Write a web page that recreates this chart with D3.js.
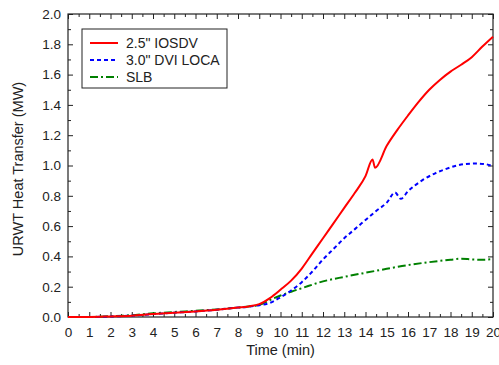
<!DOCTYPE html>
<html>
<head>
<meta charset="utf-8">
<script src="https://cdn.jsdelivr.net/npm/d3@7"></script>
<style>
  body { margin: 0; background: #fff; }
  text { font-family: "Liberation Sans", Arial, sans-serif; fill: #222; }
</style>
</head>
<body>
<div id="chart"></div>
<script>
// series (time in min, heat transfer in MW)
const iosdvTime = [0, 1, 2, 3, 4, 5, 6, 7, 8, 8.5, 9, 9.5, 10, 10.5, 11, 11.5, 12, 12.5, 13, 13.5, 14, 14.33, 14.45, 15, 15.5, 16, 16.5, 17, 17.5, 18, 18.5, 19, 19.5, 20];
const iosdvVal  = [0, 0, 0.004, 0.009, 0.02, 0.028, 0.037, 0.048, 0.062, 0.07, 0.085, 0.125, 0.18, 0.24, 0.32, 0.42, 0.52, 0.62, 0.72, 0.82, 0.93, 1.04, 0.985, 1.13, 1.235, 1.33, 1.42, 1.5, 1.565, 1.62, 1.665, 1.715, 1.785, 1.85];

const dviTime = [0, 1, 2, 3, 4, 5, 6, 7, 8, 8.5, 9, 9.5, 10, 10.5, 11, 11.5, 12, 12.5, 13, 13.5, 14, 14.5, 15, 15.39, 15.66, 16, 16.7, 17.3, 17.8, 18.3, 18.7, 19.2, 19.6, 20];
const dviVal  = [0, 0, 0.003, 0.009, 0.019, 0.028, 0.037, 0.048, 0.062, 0.068, 0.078, 0.093, 0.13, 0.175, 0.23, 0.3, 0.38, 0.45, 0.52, 0.58, 0.64, 0.7, 0.755, 0.822, 0.78, 0.83, 0.905, 0.95, 0.978, 1.0, 1.01, 1.013, 1.01, 0.995];

const slbTime = [0, 1, 2, 3, 4, 5, 6, 7, 8, 8.5, 9, 9.5, 10, 10.5, 11, 12, 13, 14, 15, 16, 17, 18, 18.5, 19, 19.5, 20];
const slbVal  = [0, 0, 0.005, 0.012, 0.024, 0.033, 0.041, 0.05, 0.063, 0.07, 0.08, 0.112, 0.142, 0.167, 0.19, 0.235, 0.265, 0.292, 0.318, 0.343, 0.362, 0.378, 0.385, 0.38, 0.378, 0.382];

const seriesNames = ['2.5" IOSDV', '3.0" DVI LOCA', 'SLB'];
const xTicks = d3.range(0, 21, 1);
const yTicks = [0.0, 0.2, 0.4, 0.6, 0.8, 1.0, 1.2, 1.4, 1.6, 1.8, 2.0];

const W = 499, H = 365;
const margin = {top: 14, right: 6, bottom: 48, left: 68};
const w = W - margin.left - margin.right;
const h = H - margin.top - margin.bottom;

const svg = d3.select('#chart').append('svg').attr('width', W).attr('height', H);
const g = svg.append('g').attr('transform', 'translate(' + margin.left + ',' + margin.top + ')');

const x = d3.scaleLinear().domain([0, 20]).range([0, w]);
const y = d3.scaleLinear().domain([0, 2]).range([h, 0]);

// inward ticks on all four sides
const tickColor = '#222';
function ticks(axisFn, scale, major, minor, transform, labels, pad) {
  const gMinor = g.append('g').attr('transform', transform)
      .call(axisFn(scale).tickValues(minor).tickSize(-3).tickFormat(''));
  const gMajor = g.append('g').attr('transform', transform)
      .call(axisFn(scale).tickValues(major).tickSize(-5).tickPadding(pad || 0)
      .tickFormat(labels ? labels : ''));
  [gMinor, gMajor].forEach((a) => {
    a.select('.domain').remove();
    a.selectAll('line').attr('stroke', tickColor).attr('stroke-width', 1);
  });
  gMajor.selectAll('text').style('font-size', '13.5px').attr('fill', '#222');
  return gMajor;
}
const xMinor = d3.range(0.5, 20, 1);
const yMinor = d3.range(0.1, 2, 0.2);
ticks(d3.axisBottom, x, xTicks, xMinor, 'translate(0,' + h + ')', (d) => d, 10);
ticks(d3.axisTop, x, xTicks, xMinor, 'translate(0,0)', null);
ticks(d3.axisLeft, y, yTicks, yMinor, 'translate(0,0)', (d) => d.toFixed(1), 7);
ticks(d3.axisRight, y, yTicks, yMinor, 'translate(' + w + ',0)', null);

g.append('rect').attr('width', w).attr('height', h)
    .attr('fill', 'none').attr('stroke', '#222').attr('stroke-width', 1.2);

const series = [
  {name: seriesNames[0], t: iosdvTime, v: iosdvVal, color: '#ff0000', dash: null},
  {name: seriesNames[1], t: dviTime, v: dviVal, color: '#0000ff', dash: '4,3'},
  {name: seriesNames[2], t: slbTime, v: slbVal, color: '#008000', dash: '8,3,2,3'}
];

const line = d3.line().x((d) => x(d[0])).y((d) => y(d[1])).curve(d3.curveMonotoneX);
// draw green, blue, then red on top
[2, 1, 0].forEach((i) => {
  const s = series[i];
  g.append('path')
      .datum(s.t.map((t, j) => [t, s.v[j]]))
      .attr('fill', 'none')
      .attr('stroke', s.color)
      .attr('stroke-width', 2)
      .attr('stroke-dasharray', s.dash)
      .attr('d', line);
});

// legend
const lg = g.append('g').attr('transform', 'translate(' + (82 - margin.left) + ',' + (29 - margin.top) + ')');
lg.append('rect').attr('width', 145).attr('height', 59)
    .attr('fill', '#fff').attr('stroke', '#222').attr('stroke-width', 1);
series.forEach((s, i) => {
  const yy = 14 + i * 17;
  lg.append('line').attr('x1', 8).attr('x2', 36).attr('y1', yy).attr('y2', yy)
      .attr('stroke', s.color).attr('stroke-width', 2).attr('stroke-dasharray', s.dash);
  lg.append('text').attr('x', 44).attr('y', yy + 5).style('font-size', '14px').text(s.name);
});

// axis titles
svg.append('text').attr('x', margin.left + w / 2).attr('y', 355)
    .attr('text-anchor', 'middle').style('font-size', '14.5px').text('Time (min)');
svg.append('text').attr('transform', 'translate(23,169) rotate(-90)')
    .attr('text-anchor', 'middle').style('font-size', '14.5px').text('URWT Heat Transfer (MW)');
</script>
</body>
</html>
